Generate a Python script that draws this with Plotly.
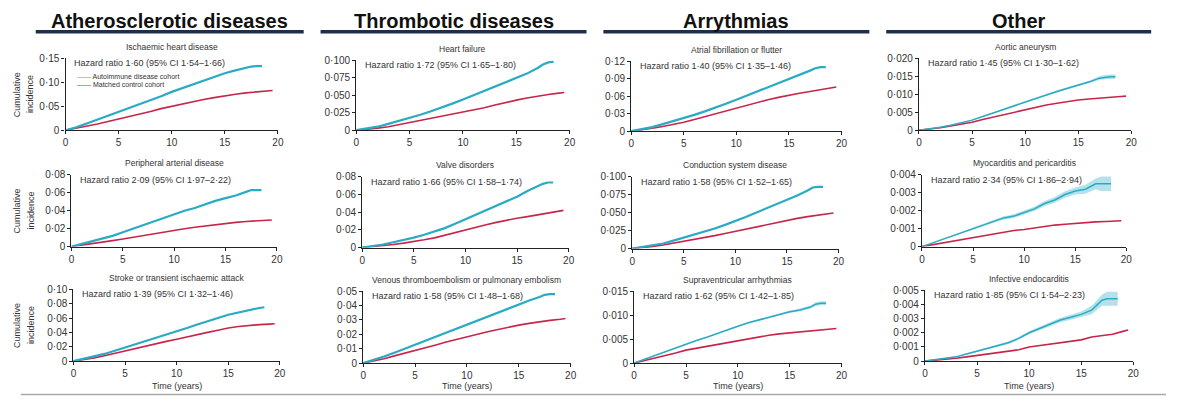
import plotly.graph_objects as go

W, H = 1181, 403

# ---------------- data ----------------
T_AI = [0, 1, 2, 3, 4, 5, 6, 7, 8, 9, 10, 11, 12, 13, 14, 15, 16, 17, 17.5, 18, 18.5]
T_MC = [0, 1, 2, 3, 4, 5, 6, 7, 8, 9, 10, 11, 12, 13, 14, 15, 16, 17, 18, 19, 19.5]
X_TICKS = [0, 5, 10, 15, 20]

headers = ["Atherosclerotic diseases", "Thrombotic diseases", "Arrythmias", "Other"]

titles = [
    "Ischaemic heart disease", "Peripheral arterial disease", "Stroke or transient ischaemic attack",
    "Heart failure", "Valve disorders", "Venous thromboembolism or pulmonary embolism",
    "Atrial fibrillation or flutter", "Conduction system disease", "Supraventricular arrhythmias",
    "Aortic aneurysm", "Myocarditis and pericarditis", "Infective endocarditis",
]

hazard = [
    "Hazard ratio 1·60 (95% CI 1·54–1·66)", "Hazard ratio 2·09 (95% CI 1·97–2·22)",
    "Hazard ratio 1·39 (95% CI 1·32–1·46)", "Hazard ratio 1·72 (95% CI 1·65–1·80)",
    "Hazard ratio 1·66 (95% CI 1·58–1·74)", "Hazard ratio 1·58 (95% CI 1·48–1·68)",
    "Hazard ratio 1·40 (95% CI 1·35–1·46)", "Hazard ratio 1·58 (95% CI 1·52–1·65)",
    "Hazard ratio 1·62 (95% CI 1·42–1·85)", "Hazard ratio 1·45 (95% CI 1·30–1·62)",
    "Hazard ratio 2·34 (95% CI 1·86–2·94)", "Hazard ratio 1·85 (95% CI 1·54–2·23)",
]

ihd_ai = [0, 0.006, 0.014, 0.022, 0.030, 0.038, 0.046, 0.055, 0.063, 0.071, 0.080, 0.088, 0.096, 0.104, 0.112, 0.119, 0.125, 0.131, 0.133, 0.134, 0.134]
ihd_mc = [0, 0.004, 0.008, 0.013, 0.018, 0.023, 0.028, 0.034, 0.039, 0.045, 0.050, 0.055, 0.060, 0.064, 0.068, 0.072, 0.075, 0.078, 0.080, 0.082, 0.083]
pad_ai = [0, 0.003, 0.006, 0.009, 0.012, 0.016, 0.020, 0.024, 0.028, 0.032, 0.036, 0.040, 0.043, 0.047, 0.051, 0.054, 0.057, 0.061, 0.063, 0.063, 0.063]
pad_mc = [0, 0.0015, 0.003, 0.005, 0.0067, 0.0085, 0.0105, 0.0125, 0.0145, 0.0165, 0.0185, 0.020, 0.0215, 0.023, 0.0245, 0.026, 0.027, 0.028, 0.0287, 0.0293, 0.0297]
str_ai = [0, 0.003, 0.0065, 0.010, 0.0145, 0.019, 0.023, 0.027, 0.032, 0.036, 0.041, 0.046, 0.051, 0.056, 0.060, 0.0645, 0.068, 0.071, 0.073, 0.074, 0.075]
str_mc = [0, 0.002, 0.0045, 0.0075, 0.011, 0.0145, 0.0178, 0.021, 0.0245, 0.0275, 0.0305, 0.034, 0.037, 0.040, 0.043, 0.0462, 0.0482, 0.050, 0.0508, 0.0515, 0.052]
hf_ai = [0, 0.002, 0.005, 0.009, 0.013, 0.018, 0.022, 0.027, 0.032, 0.038, 0.044, 0.050, 0.056, 0.062, 0.068, 0.074, 0.081, 0.089, 0.094, 0.097, 0.098]
hf_mc = [0, 0.001, 0.003, 0.005, 0.008, 0.0106, 0.013, 0.016, 0.019, 0.022, 0.025, 0.029, 0.032, 0.036, 0.040, 0.043, 0.046, 0.049, 0.051, 0.053, 0.054]
val_ai = [0, 0.0015, 0.0035, 0.006, 0.0085, 0.0113, 0.0145, 0.018, 0.022, 0.027, 0.032, 0.037, 0.042, 0.047, 0.052, 0.0575, 0.064, 0.069, 0.072, 0.0735, 0.0735]
val_mc = [0, 0.001, 0.002, 0.0035, 0.005, 0.0066, 0.0088, 0.011, 0.014, 0.017, 0.0204, 0.023, 0.0258, 0.0285, 0.031, 0.0332, 0.035, 0.037, 0.039, 0.041, 0.042]
vte_ai = [0, 0.0022, 0.0045, 0.0072, 0.010, 0.0127, 0.0155, 0.0183, 0.021, 0.024, 0.0268, 0.0297, 0.0326, 0.0354, 0.038, 0.041, 0.0435, 0.046, 0.0475, 0.048, 0.048]
vte_mc = [0, 0.0013, 0.003, 0.005, 0.0068, 0.0086, 0.0106, 0.0126, 0.0146, 0.0165, 0.0184, 0.020, 0.0218, 0.0234, 0.025, 0.0264, 0.0276, 0.0288, 0.0297, 0.0305, 0.031]
af_ai = [0, 0.003, 0.007, 0.012, 0.017, 0.0226, 0.028, 0.034, 0.040, 0.047, 0.054, 0.061, 0.068, 0.075, 0.082, 0.0897, 0.097, 0.104, 0.108, 0.110, 0.110]
af_mc = [0, 0.002, 0.005, 0.008, 0.0115, 0.0154, 0.020, 0.025, 0.030, 0.035, 0.040, 0.045, 0.050, 0.054, 0.058, 0.062, 0.065, 0.068, 0.071, 0.074, 0.076]
csd_ai = [0, 0.002, 0.004, 0.007, 0.011, 0.015, 0.019, 0.0235, 0.028, 0.033, 0.038, 0.044, 0.050, 0.056, 0.062, 0.0676, 0.074, 0.081, 0.085, 0.086, 0.086]
csd_mc = [0, 0.001, 0.003, 0.005, 0.0075, 0.0099, 0.0125, 0.015, 0.018, 0.021, 0.024, 0.027, 0.030, 0.0335, 0.0367, 0.0396, 0.042, 0.0445, 0.0465, 0.048, 0.0495]
sva_ai = [0, 0.0008, 0.0016, 0.0024, 0.0031, 0.0039, 0.0047, 0.0054, 0.0062, 0.0069, 0.0077, 0.0084, 0.0090, 0.0096, 0.0102, 0.0107, 0.0111, 0.0117, 0.0123, 0.0125, 0.0125]
sva_ci = [0, 0, 0, 0.0001, 0.0001, 0.0001, 0.0001, 0.0001, 0.0001, 0.0001, 0.00015, 0.00015, 0.0002, 0.0002, 0.0002, 0.00025, 0.0003, 0.0003, 0.0004, 0.0004, 0.0004]
sva_mc = [0, 0.0005, 0.001, 0.0015, 0.0021, 0.0027, 0.0031, 0.0035, 0.0039, 0.0043, 0.0047, 0.0051, 0.0055, 0.0058, 0.0061, 0.0063, 0.0065, 0.0068, 0.0069, 0.0071, 0.0072]
aa_ai = [0, 0.0003, 0.0008, 0.0014, 0.0021, 0.0028, 0.0038, 0.0048, 0.0059, 0.0070, 0.0080, 0.0090, 0.0099, 0.0108, 0.0117, 0.0125, 0.0134, 0.0145, 0.0148, 0.0149, 0.0149]
aa_ci = [0, 0, 0.0001, 0.0001, 0.0001, 0.0001, 0.0001, 0.0001, 0.00015, 0.00015, 0.0002, 0.0002, 0.00025, 0.0003, 0.0003, 0.00035, 0.0004, 0.0005, 0.0006, 0.0006, 0.0006]
aa_mc = [0, 0.0003, 0.0007, 0.0012, 0.0017, 0.0022, 0.0030, 0.0037, 0.0044, 0.0051, 0.0058, 0.0064, 0.0070, 0.0075, 0.0080, 0.0084, 0.0087, 0.0090, 0.0092, 0.0094, 0.0095]
myo_ai = [0, 0.0002, 0.0004, 0.0006, 0.0008, 0.0010, 0.0012, 0.0014, 0.0016, 0.0017, 0.0019, 0.0021, 0.0024, 0.0026, 0.0029, 0.0031, 0.0032, 0.0035, 0.0035, 0.0035, 0.0035]
myo_ci = [0, 0.00002, 0.00003, 0.00004, 0.00005, 0.00006, 0.00007, 0.00008, 0.00009, 0.0001, 0.0001, 0.00012, 0.00014, 0.00016, 0.00018, 0.0002, 0.00025, 0.0003, 0.0004, 0.0004, 0.0004]
myo_mc = [0, 0.0001, 0.0002, 0.0003, 0.0004, 0.0005, 0.0006, 0.0007, 0.0008, 0.0009, 0.00095, 0.00104, 0.0011, 0.0012, 0.00125, 0.0013, 0.00134, 0.00138, 0.0014, 0.00142, 0.00144]
ie_ai = [0, 0.0001, 0.0002, 0.0003, 0.0005, 0.0007, 0.0009, 0.0011, 0.0013, 0.0016, 0.0020, 0.0023, 0.0026, 0.0029, 0.0031, 0.0033, 0.0036, 0.0043, 0.0044, 0.0044, 0.0044]
ie_ci = [0, 0.00002, 0.00003, 0.00004, 0.00005, 0.00006, 0.00007, 0.00008, 0.00009, 0.0001, 0.0001, 0.00012, 0.00014, 0.00016, 0.00018, 0.0002, 0.0003, 0.0004, 0.0005, 0.0005, 0.0005]
ie_mc = [0, 0.00005, 0.0001, 0.0002, 0.0003, 0.0004, 0.0005, 0.0006, 0.0007, 0.0008, 0.0010, 0.0011, 0.0012, 0.0013, 0.0014, 0.0015, 0.0017, 0.0018, 0.0019, 0.0021, 0.0022]

ai_series = [ihd_ai, pad_ai, str_ai, hf_ai, val_ai, vte_ai, af_ai, csd_ai, sva_ai, aa_ai, myo_ai, ie_ai]
mc_series = [ihd_mc, pad_mc, str_mc, hf_mc, val_mc, vte_mc, af_mc, csd_mc, sva_mc, aa_mc, myo_mc, ie_mc]
ci_series = [None, None, None, None, None, None, None, None, sva_ci, aa_ci, myo_ci, ie_ci]

y_tickvals = [
    [0, 0.05, 0.10, 0.15], [0, 0.02, 0.04, 0.06, 0.08], [0, 0.02, 0.04, 0.06, 0.08, 0.10],
    [0, 0.025, 0.050, 0.075, 0.100], [0, 0.02, 0.04, 0.06, 0.08], [0, 0.01, 0.02, 0.03, 0.04, 0.05],
    [0, 0.03, 0.06, 0.09, 0.12], [0, 0.025, 0.050, 0.075, 0.100], [0, 0.005, 0.010, 0.015],
    [0, 0.005, 0.010, 0.015, 0.020], [0, 0.001, 0.002, 0.003, 0.004], [0, 0.001, 0.002, 0.003, 0.004, 0.005],
]
y_ticktext = [
    ["0", "0·05", "0·10", "0·15"], ["0", "0·02", "0·04", "0·06", "0·08"],
    ["0", "0·02", "0·04", "0·06", "0·08", "0·10"], ["0", "0·025", "0·050", "0·075", "0·100"],
    ["0", "0·02", "0·04", "0·06", "0·08"], ["0", "0·01", "0·02", "0·03", "0·04", "0·05"],
    ["0", "0·03", "0·06", "0·09", "0·12"], ["0", "0·025", "0·050", "0·075", "0·100"],
    ["0", "0·005", "0·010", "0·015"], ["0", "0·005", "0·010", "0·015", "0·020"],
    ["0", "0·001", "0·002", "0·003", "0·004"], ["0", "0·001", "0·002", "0·003", "0·004", "0·005"],
]

# ---------------- layout (pixel boxes: left, right, top, bottom) ----------------
boxes = [
    (63, 277, 54, 128), (69, 276, 174, 248), (71, 279, 292, 366),
    (356, 571, 56, 128), (362, 570, 176, 249), (363, 572, 294, 368),
    (633, 845, 57, 129), (634, 842, 176, 250), (636, 845, 294, 368),
    (923, 1137, 54, 128), (926, 1132, 174, 248), (929, 1139, 293, 366),
]
header_lines = [(33, 303), (320, 588), (605, 873), (890, 1157)]

TEAL = "#2aabc4"
RED = "#c7264b"
BAND = "rgba(42,171,196,0.35)"
FONT = "Liberation Sans, Arial, sans-serif"
TXT = "#333333"
AX = "#222222"


def fx(p):
    return p / W


def fy(p):
    return 1 - p / H


fig = go.Figure()
layout = {}
annotations = []
shapes = []

for i in range(12):
    n = i + 1
    xn = "x" if n == 1 else f"x{n}"
    yn = "y" if n == 1 else f"y{n}"
    xk = "xaxis" if n == 1 else f"xaxis{n}"
    yk = "yaxis" if n == 1 else f"yaxis{n}"
    l, r, t, b = boxes[i]
    ymax = y_tickvals[i][-1]

    fig.add_trace(go.Scatter(x=T_MC, y=mc_series[i], mode="lines",
                             line=dict(color=RED, width=1.6), showlegend=False,
                             hoverinfo="skip", xaxis=xn, yaxis=yn))
    ci = ci_series[i]
    if ci is not None:
        up = [v + c for v, c in zip(ai_series[i], ci)]
        lo = [max(v - c, 0) for v, c in zip(ai_series[i], ci)]
        fig.add_trace(go.Scatter(x=T_AI, y=up, mode="lines", line=dict(width=0, color=BAND),
                                 showlegend=False, hoverinfo="skip", xaxis=xn, yaxis=yn))
        fig.add_trace(go.Scatter(x=T_AI, y=lo, mode="lines", line=dict(width=0, color=BAND),
                                 fill="tonexty", fillcolor=BAND, showlegend=False,
                                 hoverinfo="skip", xaxis=xn, yaxis=yn))
    fig.add_trace(go.Scatter(x=T_AI, y=ai_series[i], mode="lines",
                             line=dict(color=TEAL, width=1.5 if ci is not None else 2.2),
                             showlegend=False, hoverinfo="skip", xaxis=xn, yaxis=yn))

    common = dict(showgrid=False, zeroline=False, showline=True, linecolor=AX, linewidth=1.3,
                  ticks="outside", ticklen=3, tickwidth=1, tickcolor=AX,
                  tickfont=dict(family=FONT, size=10, color=TXT), fixedrange=True)
    layout[xk] = dict(domain=[fx(l), fx(r)], range=[0, 20], tickvals=X_TICKS,
                      anchor=yn, **common)
    layout[yk] = dict(domain=[fy(b), fy(t)], range=[0, ymax], tickvals=y_tickvals[i],
                      ticktext=y_ticktext[i], anchor=xn, **common)

    # subplot title
    annotations.append(dict(text=titles[i], x=fx((l + r) / 2), y=fy(t - 12), xref="paper",
                            yref="paper", showarrow=False, xanchor="center", yanchor="middle",
                            font=dict(family=FONT, size=8.5, color=TXT)))
    # hazard ratio
    annotations.append(dict(text=hazard[i], x=fx(l + 7), y=fy(t + 5), xref="paper",
                            yref="paper", showarrow=False, xanchor="left", yanchor="middle",
                            font=dict(family=FONT, size=9, color=TXT)))
    col, row = i // 3, i % 3
    if col == 0:
        cy = (t + b) / 2
        annotations.append(dict(text="Cumulative", x=fx(14), y=fy(cy), xref="paper", yref="paper",
                                showarrow=False, textangle=-90, xanchor="center", yanchor="middle",
                                font=dict(family=FONT, size=9, color=TXT)))
        annotations.append(dict(text="incidence", x=fx(28), y=fy(cy), xref="paper", yref="paper",
                                showarrow=False, textangle=-90, xanchor="center", yanchor="middle",
                                font=dict(family=FONT, size=9, color=TXT)))
    if row == 2:
        annotations.append(dict(text="Time (years)", x=fx((l + r) / 2), y=fy(392), xref="paper",
                                yref="paper", showarrow=False, xanchor="center", yanchor="middle",
                                font=dict(family=FONT, size=9, color=TXT)))

# legend (first panel)
annotations.append(dict(text=f"<span style='color:{TEAL}'>——</span> Autoimmune disease cohort",
                        x=fx(73), y=fy(73), xref="paper", yref="paper", showarrow=False,
                        xanchor="left", yanchor="middle", font=dict(family=FONT, size=7, color=TXT)))
annotations.append(dict(text=f"<span style='color:{RED}'>——</span> Matched control cohort",
                        x=fx(73), y=fy(81), xref="paper", yref="paper", showarrow=False,
                        xanchor="left", yanchor="middle", font=dict(family=FONT, size=7, color=TXT)))

# column headers
for c, (x0, x1) in enumerate(header_lines):
    annotations.append(dict(text=f"<b>{headers[c]}</b>", x=fx((x0 + x1) / 2), y=fy(15),
                            xref="paper", yref="paper", showarrow=False, xanchor="center",
                            yanchor="middle",
                            font=dict(family="Liberation Sans, Arial, sans-serif", size=20,
                                      color="#111111")))
    shapes.append(dict(type="line", xref="paper", yref="paper", x0=fx(x0), x1=fx(x1),
                       y0=fy(26.5), y1=fy(26.5), line=dict(color="#1d2f4d", width=3.5)))

shapes.append(dict(type="line", xref="paper", yref="paper", x0=fx(18), x1=fx(1172),
                   y0=fy(400.5), y1=fy(400.5), line=dict(color="#a8a8a8", width=1.5)))

fig.update_layout(width=W, height=H, margin=dict(l=0, r=0, t=0, b=0),
                  paper_bgcolor="white", plot_bgcolor="white", showlegend=False,
                  annotations=annotations, shapes=shapes, **layout)

fig.write_html("out.html", config={"displayModeBar": False},
               post_script="document.body.style.margin='0';document.body.style.overflow='hidden';")
